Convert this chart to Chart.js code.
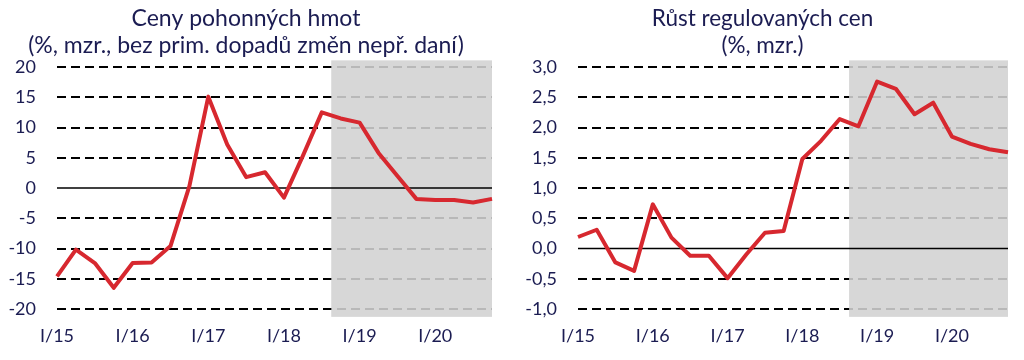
<!DOCTYPE html>
<html lang="cs">
<head>
    <meta charset="UTF-8">
    <title>Ceny pohonných hmot a regulované ceny</title>
    <script src="https://cdn.jsdelivr.net/npm/chart.js"></script>
    <style>
        body { margin: 0; background: #fff; }
        .graf { position: absolute; top: 0; width: 512px; height: 360px; }
        #grafVlevo { left: 0; }
        #grafVpravo { left: 512px; }
    </style>
</head>
<body>
    <div class="graf" id="grafVlevo"><canvas id="pohonne" width="512" height="360"></canvas></div>
    <div class="graf" id="grafVpravo"><canvas id="regulovane" width="512" height="360"></canvas></div>

<script>
// ctvrtleti I/15 .. IV/20
const ctvrtleti = [
    'I/15', 'II/15', 'III/15', 'IV/15',
    'I/16', 'II/16', 'III/16', 'IV/16',
    'I/17', 'II/17', 'III/17', 'IV/17',
    'I/18', 'II/18', 'III/18', 'IV/18',
    'I/19', 'II/19', 'III/19', 'IV/19',
    'I/20', 'II/20', 'III/20', 'IV/20'
];

// ceny pohonnych hmot (%, mzr.)
const pohonneHmoty = [
    -14.6, -10.2, -12.4, -16.5,
    -12.4, -12.3, -9.6, 0.3,
    15.1, 7.2, 1.8, 2.6,
    -1.6, 5.3, 12.5, 11.5,
    10.8, 5.8, 2.0, -1.8,
    -2.0, -2.0, -2.4, -1.8
];

// rust regulovanych cen (%, mzr.)
const regulovaneCeny = [
    0.19, 0.31, -0.23, -0.37,
    0.73, 0.18, -0.12, -0.12,
    -0.49, -0.10, 0.26, 0.29,
    1.48, 1.78, 2.14, 2.02,
    2.76, 2.64, 2.22, 2.41,
    1.85, 1.73, 1.64, 1.59
];

// rozsah os: min, max, krok
const osaVlevo = [-20, 20, 5];
const osaVpravo = [-1, 3, 0.5];

// sede pole prognozy (index od - do, hodnoty dole - nahore)
const prognozaX = [14.5, 23];
const prognozaVlevo = [-21.3, 21.1];
const prognozaVpravo = [-1.13, 3.11];

const barvaTextu = '#1b1c52';
const pismo = 'Lato, "Open Sans", sans-serif';

// plugin: sede pole pres mrizku, potom nulova cara
const prognozaPlugin = {
    id: 'prognoza',
    beforeDatasetsDraw(chart, args, opts) {
        const x = chart.scales.x, y = chart.scales.y, c = chart.ctx;
        const x1 = x.getPixelForValue(opts.od), x2 = x.getPixelForValue(opts.do);
        const y1 = y.getPixelForValue(opts.nahore), y2 = y.getPixelForValue(opts.dole);
        c.save();
        c.fillStyle = 'rgba(210, 210, 210, 0.88)';
        c.fillRect(x1, y1, x2 - x1, y2 - y1);
        // nulova cara
        const y0 = y.getPixelForValue(0);
        c.strokeStyle = '#000';
        c.lineWidth = 1.5;
        c.beginPath();
        c.moveTo(chart.chartArea.left, y0);
        c.lineTo(chart.chartArea.right, y0);
        c.stroke();
        c.restore();
    }
};

function vytvorGraf(id, nadpis, velikostNadpisu, data, osa, prognozaY, sirkaOsy, pravyOkraj, desetinne) {
    return new Chart(document.getElementById(id), {
        type: 'line',
        data: {
            labels: ctvrtleti,
            datasets: [{
                data: data,
                borderColor: '#d7282f',
                borderWidth: 4,
                pointRadius: 0,
                tension: 0,
                borderJoinStyle: 'round'
            }]
        },
        plugins: [prognozaPlugin],
        options: {
            responsive: false,
            animation: false,
            layout: { padding: { left: 0, right: pravyOkraj, top: 0, bottom: 0 } },
            plugins: {
                legend: { display: false },
                tooltip: { enabled: false },
                title: {
                    display: true,
                    text: nadpis,
                    color: barvaTextu,
                    font: { family: pismo, size: velikostNadpisu, weight: 'normal', lineHeight: 27 / velikostNadpisu },
                    padding: { top: 5, bottom: 8 }
                },
                prognoza: { od: prognozaX[0], do: prognozaX[1], dole: prognozaY[0], nahore: prognozaY[1] }
            },
            scales: {
                x: {
                    offset: false,
                    grid: { display: false, drawTicks: false },
                    border: { display: false },
                    afterFit: (s) => { s.height = 51; },
                    ticks: {
                        autoSkip: false,
                        maxRotation: 0,
                        padding: 16,
                        color: barvaTextu,
                        font: { family: pismo, size: 18 },
                        callback: (v, i) => ctvrtleti[i].startsWith('I/') ? ctvrtleti[i] : ''
                    }
                },
                y: {
                    min: osa[0],
                    max: osa[1],
                    afterFit: (s) => { s.width = sirkaOsy; },
                    border: { display: false, dash: [9, 5] },
                    grid: {
                        drawTicks: false,
                        lineWidth: 2,
                        color: (ctx) => ctx.tick && ctx.tick.value === 0 ? 'rgba(0,0,0,0)' : '#000'
                    },
                    ticks: {
                        stepSize: osa[2],
                        padding: 21,
                        color: barvaTextu,
                        font: { family: pismo, size: 18 },
                        callback: (v) => desetinne ? v.toFixed(1).replace('.', ',') : v
                    }
                }
            }
        }
    });
}

vytvorGraf('pohonne',
    ['Ceny pohonných hmot', '(%, mzr., bez prim. dopadů změn nepř. daní)'], 23,
    pohonneHmoty, osaVlevo, prognozaVlevo, 57, 20, false);
vytvorGraf('regulovane',
    ['Růst regulovaných cen', '(%, mzr.)'], 22.5,
    regulovaneCeny, osaVpravo, prognozaVpravo, 66, 11, true);
</script>
</body>
</html>
